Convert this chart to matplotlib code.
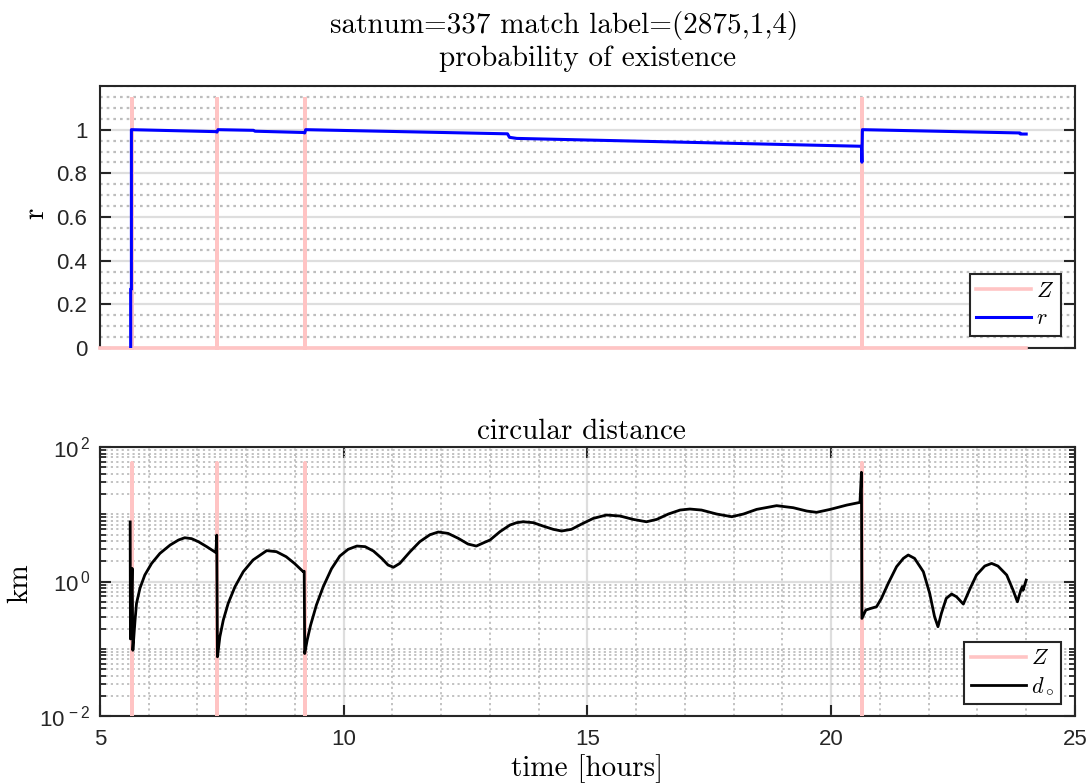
import numpy as np
import matplotlib
matplotlib.use("Agg")
import matplotlib.pyplot as plt
from matplotlib.lines import Line2D
from matplotlib.ticker import (FixedLocator, MultipleLocator, LogLocator,
                               NullFormatter, FuncFormatter, NullLocator)

plt.rcParams['font.family'] = ['Liberation Sans', 'DejaVu Sans']
plt.rcParams['mathtext.fontset'] = 'cm'

# ---------------- data ----------------
t_start, t_end = 5.0, 24.0

# detection instants Z (hours) and their drawn heights
z_times = [5.65, 7.41, 9.20, 20.64]
z_peak_r = 1.15
z_peak_km = 58.0
z_floor_km = 1e-3

# probability of existence r
r_t = [5.630, 5.630, 5.645, 5.645, 7.380, 7.400, 7.420, 8.150, 8.180, 9.180,
       9.200, 9.220, 13.360, 13.400, 13.550, 20.620, 20.630, 20.640, 23.870,
       23.880, 24.000]
r_v = [0.000, 0.270, 0.270, 1.000, 0.991, 0.989, 1.000, 0.997, 0.993, 0.987,
       0.985, 1.000, 0.981, 0.965, 0.960, 0.924, 0.851, 1.000, 0.985,
       0.980, 0.980]

# circular distance d (km)
d_t = [5.620, 5.625, 5.660, 5.675, 5.720, 5.750, 5.820, 5.920, 6.060, 6.230,
       6.440, 6.610, 6.740, 6.880, 7.020, 7.190, 7.380,
       7.395, 7.410, 7.460, 7.530, 7.630, 7.770, 7.940, 8.140, 8.420, 8.620,
       8.820, 8.990, 9.170, 9.190,
       9.200, 9.250, 9.320, 9.440, 9.580, 9.750, 9.920, 10.09, 10.27, 10.44,
       10.61, 10.78, 10.91, 11.02, 11.15, 11.36, 11.56, 11.77, 11.94, 12.14,
       12.35, 12.55, 12.72, 12.88, 13.00, 13.205, 13.41, 13.547, 13.68, 13.89,
       14.09, 14.30, 14.47, 14.67, 14.88, 15.12, 15.39, 15.67, 15.94, 16.21,
       16.42, 16.66, 16.90, 17.10, 17.34, 17.65, 17.96, 18.20, 18.47, 18.88,
       19.22, 19.50, 19.70, 19.98, 20.32, 20.59, 20.62,
       20.63, 20.71, 20.81, 20.93, 21.03, 21.17, 21.34, 21.48, 21.58, 21.71,
       21.89, 22.02, 22.12, 22.19, 22.26, 22.36, 22.47, 22.57, 22.71, 22.85,
       22.98, 23.15, 23.29, 23.42, 23.60, 23.73, 23.82, 23.89, 23.92, 23.935,
       24.00]
d_v = [7.70, 0.140, 1.57, 0.095, 0.267, 0.473, 0.792, 1.25, 1.86, 2.62,
       3.49, 4.14, 4.48, 4.34, 3.91, 3.30, 2.69,
       4.90, 0.076, 0.151, 0.267, 0.473, 0.838, 1.40, 2.09, 2.88, 2.78,
       2.34, 1.86, 1.40, 1.42,
       0.085, 0.134, 0.223, 0.447, 0.838, 1.55, 2.39, 3.01, 3.37, 3.30,
       2.84, 2.21, 1.76, 1.63, 1.86, 2.77, 3.91, 4.97, 5.45, 5.20,
       4.39, 3.61, 3.37, 3.80, 4.14, 5.51, 6.92, 7.50, 7.74, 7.50,
       6.68, 5.97, 5.64, 5.97, 7.16, 8.69, 9.75, 9.42, 8.39, 7.74,
       8.39, 10.09, 11.56, 11.97, 11.56, 10.09, 9.20, 10.09, 11.83, 13.43,
       12.53, 11.17, 10.69, 11.83, 13.71, 15.03, 42.1,
       0.283, 0.377, 0.398, 0.422, 0.562, 0.940, 1.66, 2.21, 2.48, 2.21,
       1.40, 0.667, 0.300, 0.213, 0.336, 0.562, 0.652, 0.594, 0.462, 0.791,
       1.25, 1.70, 1.86, 1.70, 1.25, 0.746, 0.500, 0.746, 0.840, 0.740,
       1.05]

title_main = "satnum=337 match label=(2875,1,4)"
title_top = "probability of existence"
title_bottom = "circular distance"
xlabel = "time [hours]"


def z_series(peak, base):
    zt, zv = [t_start], [base]
    for t in z_times:
        zt += [t, t, t]
        zv += [base, peak, base]
    zt.append(t_end)
    zv.append(base)
    return zt, zv


# ---------------- styling ----------------
Z_COLOR = '#ffc4c4'
SPINE = '#262626'
MAJ_GRID = '#dedede'
MIN_GRID = '#bdbdbd'
SERIF = 'cmr10'

fig = plt.figure(figsize=(10.9, 7.84), dpi=100)
ax1 = fig.add_axes([0.0917, 0.5561, 0.8945, 0.3342])
ax2 = fig.add_axes([0.0917, 0.0867, 0.8945, 0.3431])


def style_axes(ax):
    for s in ax.spines.values():
        s.set_color(SPINE)
        s.set_linewidth(1.5)
    ax.set_facecolor('white')
    ax.set_axisbelow(True)
    ax.tick_params(which='both', direction='in', top=True, right=True,
                   colors=SPINE, labelcolor='#262626', labelsize=16)
    ax.tick_params(which='major', length=8, width=1.5)


def add_legend(ax, handles, labels, y0):
    leg = ax.legend(handles, labels, loc='lower right',
                    bbox_to_anchor=(0.9856, y0), borderaxespad=0,
                    fancybox=False, framealpha=1, edgecolor=SPINE, fontsize=16,
                    handlelength=2.45, handletextpad=0.25, labelspacing=0.3,
                    borderpad=0.3)
    leg.get_frame().set_linewidth(1.5)
    return leg


# ---- top panel ----
style_axes(ax1)
zt, zv = z_series(z_peak_r, 0.0)
ax1.plot(zt, zv, color=Z_COLOR, lw=2.6, zorder=3, clip_on=False,
         solid_joinstyle='miter')
ax1.plot(r_t, r_v, color='#0000ff', lw=2.2, zorder=4)
ax1.set_xlim(5, 25)
ax1.set_ylim(0, 1.2)
ax1.xaxis.set_major_locator(NullLocator())
ax1.yaxis.set_major_locator(FixedLocator([0, 0.2, 0.4, 0.6, 0.8, 1.0]))
ax1.yaxis.set_major_formatter(FuncFormatter(lambda v, p: f"{v:g}"))
ax1.yaxis.set_minor_locator(MultipleLocator(0.05))
ax1.tick_params(which='minor', length=0)
ax1.tick_params(axis='y', which='major', pad=9)
ax1.grid(True, which='major', axis='y', color=MAJ_GRID, lw=1.6, ls='-')
ax1.grid(True, which='minor', axis='y', color=MIN_GRID, lw=1.6,
         ls=(0, (1.2, 1.8)))
add_legend(ax1, [Line2D([], [], color=Z_COLOR, lw=2.6),
                 Line2D([], [], color='#0000ff', lw=2.2)],
           ['$Z$', '$r$'], 0.046)

# ---- bottom panel ----
style_axes(ax2)
zt, zv = z_series(z_peak_km, z_floor_km)
ax2.plot(zt, zv, color=Z_COLOR, lw=2.6, zorder=3)
ax2.plot(d_t, d_v, color='black', lw=2.0, zorder=4, solid_joinstyle='round')
ax2.set_yscale('log')
ax2.set_xlim(5, 25)
ax2.set_ylim(1e-2, 1e2)
ax2.xaxis.set_major_locator(MultipleLocator(5))
ax2.xaxis.set_minor_locator(MultipleLocator(1))
ax2.yaxis.set_major_locator(FixedLocator([1e-2, 1e0, 1e2]))
ax2.yaxis.set_major_formatter(FuncFormatter(
    lambda v, p: r'$\mathregular{10^{\,%d}}$' % round(np.log10(v))))
ax2.yaxis.set_minor_locator(LogLocator(base=10, subs=np.arange(1, 10), numticks=20))
ax2.yaxis.set_minor_formatter(NullFormatter())
ax2.tick_params(axis='x', which='minor', length=0)
ax2.tick_params(axis='y', which='minor', length=4, width=1.3)
ax2.tick_params(axis='x', which='major', pad=9)
ax2.tick_params(axis='y', which='major', pad=7)
ax2.grid(True, which='major', color=MAJ_GRID, lw=1.6, ls='-')
ax2.grid(True, which='minor', color=MIN_GRID, lw=1.3, ls=(0, (1.2, 1.8)))
add_legend(ax2, [Line2D([], [], color=Z_COLOR, lw=2.6),
                 Line2D([], [], color='black', lw=2.0)],
           ['$Z$', r'$d_\circ$'], 0.0446)

# ---- text ----
W, H = 1090.0, 784.0
fig.text(564 / W, 1 - 33 / H, title_main, family=SERIF, fontsize=21,
         ha='center', va='baseline')
fig.text(588 / W, 1 - 66 / H, title_top, family=SERIF, fontsize=21,
         ha='center', va='baseline')
fig.text(581 / W, 1 - 439 / H, title_bottom, family=SERIF, fontsize=21,
         ha='center', va='baseline')
fig.text(587 / W, 1 - 776 / H, xlabel, family=SERIF, fontsize=21,
         ha='center', va='baseline')
fig.text(36 / W, 1 - 213 / H, "r", family=SERIF, fontsize=21,
         ha='center', va='center', rotation=90)
fig.text(20 / W, 1 - 583 / H, "km", family=SERIF, fontsize=21,
         ha='center', va='center', rotation=90)

fig.savefig("out.png", dpi=100, facecolor='white')
